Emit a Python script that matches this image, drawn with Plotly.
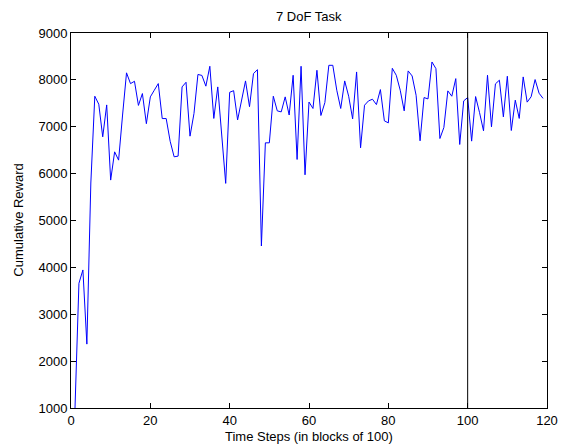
import plotly.graph_objects as go

time_steps = list(range(1, 120))
cumulative_reward = [
    980, 3660, 3945, 2363, 5800, 7651, 7481, 6785, 7466, 5862,
    6465, 6288, 7250, 8150, 7920, 7970, 7455, 7708, 7065, 7637,
    7780, 7921, 7175, 7175, 6690, 6359, 6373, 7850, 7949, 6799,
    7282, 8115, 8095, 7866, 8290, 7177, 7850, 6800, 5792, 7735,
    7770, 7145, 7566, 7978, 7428, 8134, 8218, 4456, 6657, 6657,
    7651, 7339, 7317, 7637, 7250, 8098, 6302, 8290, 5975, 7527,
    7390, 8205, 7240, 7515, 8311, 8311, 7779, 7390, 7978, 7651,
    7168, 8169, 6551, 7459, 7552, 7587, 7473, 7793, 7126, 7083,
    8247, 8098, 7779, 7339, 8191, 8084, 7672, 6700, 7623, 7594,
    8382, 8240, 6749, 6984, 7765, 7651, 8027, 6622, 7552, 7623,
    6693, 7644, 7300, 6913, 8099, 6998, 7915, 7993, 7211, 8078,
    6920, 7567, 7177, 8063, 7525, 7640, 8007, 7715, 7605,
]
marker_x = 100
x_ticks = [0, 20, 40, 60, 80, 100, 120]
y_ticks = [1000, 2000, 3000, 4000, 5000, 6000, 7000, 8000, 9000]

FONT = "Arial, Liberation Sans, Helvetica, sans-serif"

fig = go.Figure()
fig.add_trace(go.Scatter(
    x=time_steps, y=cumulative_reward, mode="lines",
    line=dict(color="#0000ff", width=1), showlegend=False, hoverinfo="skip",
))
fig.add_trace(go.Scatter(
    x=[marker_x, marker_x], y=[y_ticks[0], y_ticks[-1]], mode="lines",
    line=dict(color="black", width=1), showlegend=False, hoverinfo="skip",
))

axis_common = dict(
    showline=True, linecolor="black", linewidth=1, mirror="ticks",
    ticks="inside", ticklen=5, tickcolor="black", tickwidth=1,
    showgrid=False, zeroline=False, automargin=False,
    tickfont=dict(family=FONT, size=13, color="black"),
)

fig.update_layout(
    width=561, height=447, autosize=False,
    margin=dict(l=71, r=14, t=33, b=39, autoexpand=False),
    paper_bgcolor="white", plot_bgcolor="white",
    font=dict(family=FONT, size=13, color="black"),
    xaxis=dict(range=[0, 120], tickvals=x_ticks, **axis_common),
    yaxis=dict(range=[1000, 9000], tickvals=y_ticks, **axis_common),
    annotations=[
        dict(text="7 DoF Task", xref="paper", yref="paper", x=0.5, y=1.045,
             xanchor="center", yanchor="middle", showarrow=False,
             font=dict(family=FONT, size=13, color="black")),
        dict(text="Time Steps (in blocks of 100)", xref="paper", yref="paper",
             x=0.5, y=-0.077, xanchor="center", yanchor="middle", showarrow=False,
             font=dict(family=FONT, size=13, color="black")),
        dict(text="Cumulative Reward", xref="paper", yref="paper",
             x=-0.111, y=0.5, xanchor="center", yanchor="middle", showarrow=False,
             textangle=-90, font=dict(family=FONT, size=13, color="black")),
    ],
)

fig.write_html(
    "out.html",
    config={"displayModeBar": False},
    post_script="document.body.style.margin='0';document.body.style.overflow='hidden';",
)
